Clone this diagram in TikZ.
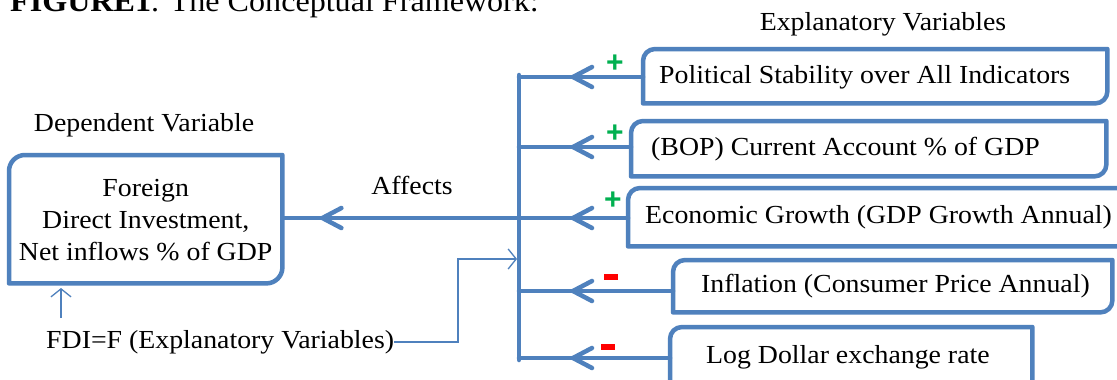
\documentclass[tikz,border=0pt]{standalone}
\usepackage{fontspec}
\setmainfont[FakeStretch=1.07]{Liberation Serif}
\setsansfont{Liberation Sans}
\usetikzlibrary{arrows.meta,decorations.markings}
\definecolor{ofblue}{RGB}{79,129,189}
\definecolor{ofgreen}{RGB}{0,176,80}
\definecolor{ofred}{RGB}{255,0,0}
\newcommand{\diagbox}[2][12]{%
  \draw[boxline] ([xshift=#1pt]#2.north west) -- (#2.north east)
    -- ([yshift=#1pt]#2.south east) arc[start angle=0,end angle=-90,radius=#1pt]
    -- (#2.south west) -- ([yshift=-#1pt]#2.north west)
    arc[start angle=180,end angle=90,radius=#1pt] -- cycle;}
\begin{document}
\begin{tikzpicture}[x=1pt,y=1pt,
  boxline/.style={draw=ofblue,line width=4.5pt,line join=round},
  vbox/.style={draw=none,inner sep=0pt,anchor=north west},
  vtext/.style={font=\fontsize{26}{30}\selectfont,inner sep=0pt,anchor=west},
  lbl/.style={font=\fontsize{26}{30}\selectfont,inner sep=0pt},
  conn/.style={draw=ofblue,line width=4.5pt,line cap=round},
  arrowat/.style={postaction={decorate},decoration={markings,
     mark=at position -#1pt with {\draw[ofblue,line width=4.5pt,line cap=round,line join=round] (-19pt,10pt) -- (0pt,0pt) -- (-19pt,-10pt);}}},
  thinarr/.style={draw=ofblue,line width=1.3pt,-{Straight Barb[length=8pt,width=20pt,line width=1.3pt]}},
  plus/.style={text=ofgreen,font=\sffamily\bfseries\fontsize{30}{30}\selectfont,inner sep=0pt},
  minus/.style={fill=ofred,draw=none,minimum width=14pt,minimum height=5.5pt,inner sep=0pt}]
\fill[white] (0,0) rectangle (1117,-380);
\useasboundingbox (0,0) rectangle (1117,-380);

% titles
\node[lbl,anchor=base west,font=\fontsize{30}{34}\selectfont] (title) at (10,-12) {\textbf{FIGURE1}. The Conceptual Framework:};
\node[lbl] (dep) at (144,-125) {Dependent Variable};
\node[lbl] (expl) at (883,-24) {Explanatory Variables};
\node[lbl] (aff) at (412,-185) {Affects};

% dependent box
\node[vbox,minimum width=273pt,minimum height=128pt] (fdi) at (9,-155) {};
\diagbox[16]{fdi}
\node[lbl,align=center,font=\fontsize{26}{32}\selectfont] (fdit) at ([yshift=-1pt]fdi.center) {Foreign\\Direct Investment,\\Net inflows \% of GDP};

% explanatory boxes
\node[vbox,minimum width=464pt,minimum height=54pt] (b1) at (643,-49) {};
\node[vbox,minimum width=475pt,minimum height=55pt] (b2) at (631,-121) {};
\node[vbox,minimum width=500pt,minimum height=58pt] (b3) at (628,-188) {};
\node[vbox,minimum width=439pt,minimum height=52pt] (b4) at (673,-260) {};
\node[vbox,minimum width=362pt,minimum height=80pt] (b5) at (670,-327) {};
\diagbox{b1}\diagbox{b2}\diagbox{b3}\diagbox{b4}\diagbox{b5}
\node[vtext] (t1) at ([xshift=16pt,yshift=-1pt]b1.west) {Political Stability over All Indicators};
\node[vtext] (t2) at ([xshift=20pt]b2.west) {(BOP) Current Account \% of GDP};
\node[vtext] (t3) at ([xshift=17pt]b3.west) {Economic Growth (GDP Growth Annual)};
\node[vtext] (t4) at ([xshift=28pt]b4.west) {Inflation (Consumer Price Annual)};
\node[vtext] (t5) at (706,-357) {Log Dollar exchange rate};

% junctions on the vertical bar
\coordinate (vtop) at (519,-75);
\coordinate (vbot) at (519,-360);
\coordinate (j1) at (519,-77);
\coordinate (j2) at (519,-147);
\coordinate (j3) at (519,-218);
\coordinate (j4) at (519,-291);
\coordinate (j5) at (519,-358);
\draw[conn] (vtop) -- (vbot);
\draw[conn,arrowat=54] (b1.west |- j1) -- (j1);
\draw[conn,arrowat=54] (b2.west |- j2) -- (j2);
\draw[conn,arrowat=54] (b3.west |- j3) -- (j3);
\draw[conn,arrowat=54] (b4.west |- j4) -- (j4);
\draw[conn,arrowat=54] (b5.west |- j5) -- (j5);
\draw[conn,arrowat=40] (j3) -- (fdi.east |- j3);

% signs
\node[plus] (p1) at (615,-64) {+};
\node[plus] (p2) at (615,-134) {+};
\node[plus] (p3) at (613,-201) {+};
\node[minus] (m4) at (611,-277) {};
\node[minus] (m5) at (608,-347) {};

% formula
\node[lbl,anchor=west] (form) at (46,-342) {FDI=F (Explanatory Variables)};
\coordinate (fj) at (517,-259);
\coordinate (fk) at (458,-259);
\draw[thinarr] (form.east) -| (fk) -- (fj);
\coordinate (us) at (61,-318);
\coordinate (ue) at (61,-288);
\draw[thinarr] (us) -- (ue);
\end{tikzpicture}
\end{document}
